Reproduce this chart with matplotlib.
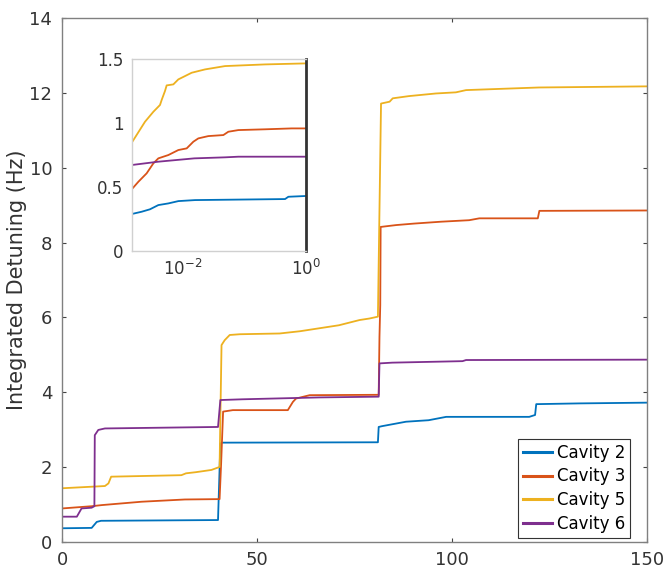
import matplotlib
matplotlib.use("Agg")
import matplotlib.pyplot as plt

# ---- main curves (time vs integrated detuning, Hz) ----
labels = ["Cavity 2", "Cavity 3", "Cavity 5", "Cavity 6"]
colors = ["#0072BD", "#D95319", "#EDB120", "#7E2F8E"]

t2 = [0, 0, 7.6, 8.9, 10, 40.0, 40.6, 41.0, 81.0, 81.2, 82, 88.2, 94, 98.5, 119.8, 121.3, 121.6, 132.6, 150]
v2 = [0, 0.36, 0.37, 0.53, 0.56, 0.58, 2.63, 2.65, 2.66, 3.07, 3.09, 3.21, 3.25, 3.34, 3.34, 3.39, 3.68, 3.70, 3.72]

t3 = [0, 0, 7.6, 10.2, 20.4, 31.5, 40.4, 40.8, 41.3, 43.8, 57.9, 59.2, 60.0, 63.5, 81.2, 81.4, 81.6, 81.7,
      85.7, 90.3, 97.2, 104.4, 107, 122.0, 122.4, 150]
v3 = [0, 0.89, 0.95, 0.98, 1.07, 1.13, 1.14, 2.1, 3.48, 3.52, 3.52, 3.74, 3.83, 3.92, 3.93, 5.48, 6.33, 8.42,
      8.47, 8.51, 8.56, 8.60, 8.65, 8.65, 8.85, 8.86]

t5 = [0, 0, 11.0, 11.9, 12.6, 30.6, 31.8, 34.3, 38.3, 40.4, 40.9, 41.7, 43.0, 45.6, 55.8, 61, 71, 76.3, 78.8,
      81.0, 81.8, 84.0, 84.8, 89, 95.9, 101, 103.6, 122.3, 150]
v5 = [0, 1.43, 1.49, 1.56, 1.74, 1.78, 1.83, 1.86, 1.92, 2.0, 5.26, 5.39, 5.53, 5.55, 5.57, 5.63, 5.79, 5.93, 5.97,
      6.02, 11.72, 11.77, 11.86, 11.92, 11.99, 12.02, 12.08, 12.15, 12.18]

t6 = [0, 0, 3.8, 5.0, 7.6, 8.3, 8.4, 9.3, 11, 40.0, 40.6, 46.3, 66, 81.2, 81.4, 84.7, 102.7, 103.6, 150]
v6 = [0, 0.67, 0.67, 0.89, 0.91, 0.95, 2.85, 2.99, 3.03, 3.07, 3.79, 3.81, 3.86, 3.88, 4.77, 4.79, 4.83, 4.86, 4.87]

# ---- inset curves (log time) ----
it2 = [0.001466, 0.002128, 0.002904, 0.003972, 0.005781, 0.008395, 0.01567, 0.4560, 0.5164, 1.0]
iv2 = [0.289, 0.307, 0.326, 0.359, 0.372, 0.39, 0.398, 0.406, 0.424, 0.430]

it3 = [0.001466, 0.001879, 0.002564, 0.003296, 0.003972, 0.005781, 0.008395, 0.01148, 0.01472, 0.01774,
       0.02582, 0.04529, 0.05458, 0.07943, 0.2153, 0.5848, 1.0]
iv3 = [0.482, 0.541, 0.607, 0.685, 0.724, 0.75, 0.789, 0.802, 0.854, 0.880,
       0.898, 0.906, 0.932, 0.945, 0.951, 0.958, 0.958]

it5 = [0.001466, 0.002410, 0.003296, 0.004227, 0.004498, 0.005093, 0.005420, 0.006966, 0.008395, 0.01079,
       0.01384, 0.02280, 0.04819, 0.2153, 1.0]
iv5 = [0.846, 1.010, 1.088, 1.141, 1.180, 1.25, 1.294, 1.302, 1.341, 1.367,
       1.393, 1.419, 1.445, 1.458, 1.466]

it6 = [0.001466, 0.003972, 0.01528, 0.04819, 0.07943, 1.0]
iv6 = [0.672, 0.698, 0.724, 0.732, 0.737, 0.737]

main_t = [t2, t3, t5, t6]
main_v = [v2, v3, v5, v6]
ins_t = [it2, it3, it5, it6]
ins_v = [iv2, iv3, iv5, iv6]

plt.rcParams["font.family"] = "DejaVu Sans"
fig = plt.figure(figsize=(6.72, 5.76), dpi=100)
ax = fig.add_axes([0.0923, 0.0595, 0.8705, 0.9087])

for t, v, c, lab in zip(main_t, main_v, colors, labels):
    ax.plot(t, v, color=c, linewidth=1.3, label=lab)

ax.set_xlim(0, 150)
ax.set_ylim(0, 14)
ax.set_xticks([0, 50, 100, 150])
ax.set_yticks(range(0, 15, 2))
ax.tick_params(direction="in", top=True, right=True, length=3, width=0.8,
               color="#444444", labelcolor="#333333", labelsize=13, pad=7)
for s in ax.spines.values():
    s.set_color("#808080")
    s.set_linewidth(1.0)
ax.set_ylabel("Integrated Detuning (Hz)", fontsize=15, color="#333333", labelpad=2)

leg = ax.legend(loc="lower right", bbox_to_anchor=(0.971, 0.007), borderaxespad=0,
                fontsize=12, handlelength=1.7, handletextpad=0.3, labelspacing=0.35,
                fancybox=False, framealpha=1, borderpad=0.3)
leg.get_frame().set_edgecolor("#333333")
leg.get_frame().set_linewidth(0.8)
for h in leg.get_lines():
    h.set_linewidth(2.2)

# inset
axi = fig.add_axes([0.196, 0.5642, 0.2594, 0.3333])
for t, v, c in zip(ins_t, ins_v, colors):
    axi.plot(t, v, color=c, linewidth=1.3)
axi.set_xscale("log")
axi.set_xlim(0.001466, 1)
axi.set_ylim(0, 1.5)
axi.set_xticks([1e-2, 1])
axi.set_xticklabels([r"$10^{-2}$", r"$10^{0}$"])
axi.minorticks_off()
axi.set_yticks([0, 0.5, 1, 1.5])
axi.set_yticklabels(["0", "0.5", "1", "1.5"])
axi.tick_params(direction="in", length=0, labelcolor="#333333", labelsize=12, pad=6)
for name in ["left", "top", "bottom"]:
    axi.spines[name].set_color("#d0d0d0")
    axi.spines[name].set_linewidth(1.0)
axi.spines["right"].set_color("#333333")
axi.spines["right"].set_linewidth(2.0)

fig.savefig("out.png", dpi=100)
